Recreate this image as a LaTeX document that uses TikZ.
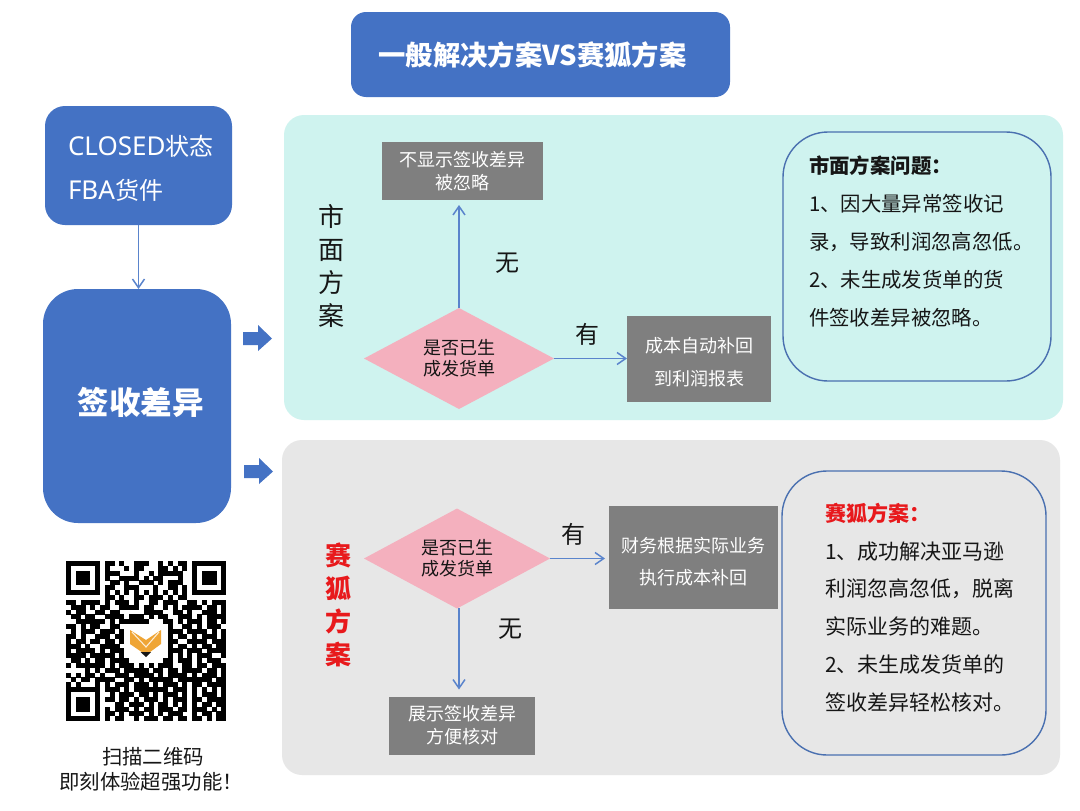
\documentclass[tikz,border=0pt]{standalone}
\usepackage{fontspec}
\usetikzlibrary{arrows.meta,shapes.geometric}
\setmainfont{Noto Sans CJK SC}
\newfontfamily\latinf{Noto Sans}
\newdimen\pxd \pxd=0.75pt
\newcommand\fz[2]{\fontsize{\the\dimexpr#1\pxd\relax}{\the\dimexpr#2\pxd\relax}\selectfont}
\definecolor{bluefill}{HTML}{4472C4}
\definecolor{linkblue}{HTML}{5A84CC}
\definecolor{greybox}{HTML}{7F7F7F}
\definecolor{pinkd}{HTML}{F4B0BE}
\definecolor{teal1}{HTML}{CFF3EF}
\definecolor{grey1}{HTML}{E7E7E7}
\definecolor{redt}{HTML}{E8191C}
\definecolor{ink}{HTML}{161616}
\definecolor{framel}{HTML}{4A70B0}
\definecolor{foxo}{HTML}{EFA535}
\tikzset{
  every node/.style={inner sep=0pt,outer sep=0pt},
  bluebox/.style={fill=bluefill,text=white,align=left},
  panel/.style={rounded corners=20*\pxd},
  greyb/.style={fill=greybox,text=white,align=center,font=\fz{18}{23}},
  greyt/.style={text=white,align=center},
  decide/.style={diamond,fill=pinkd,text=ink,align=center,font=\fz{18}{21},aspect=1.9,minimum width=190*\pxd,minimum height=100*\pxd},
  frameb/.style={draw=framel,line width=1.4*\pxd,rounded corners=45*\pxd},
  conn/.style={draw=linkblue,line width=1.5*\pxd,-{Straight Barb[length=6.5pt,width=9pt]}},
  ylab/.style={text=ink,font=\fz{24}{24}},
  vert/.style={align=center,font=\fz{26}{32.8}},
  para/.style={text=ink,align=left,anchor=north west},
}
\newcount\qx \newcount\qy
\def\qrparse#1{\ifx#1\relax\else\if#1x\fill (\the\qx,\the\qy) rectangle ++(1.03,1.03);\fi\advance\qx by 1 \expandafter\qrparse\fi}
\def\qrow#1{\qx=0 \qrparse#1\relax\advance\qy by 1 }
\begin{document}
\begin{tikzpicture}[x=0.75pt,y=-0.75pt]
\useasboundingbox (0,0) rectangle (1080,810);
\fill[white] (0,0) rectangle (1080,810);
% title
\node[fill=bluefill,rounded corners=15*\pxd,minimum width=379*\pxd,minimum height=85*\pxd] (title) at (540.5,54.5) {};
\node[text=white,font=\fz{27.3}{30}\bfseries] (titlet) at (532.5,54.5) {一般解决方案VS赛狐方案};
% left column
\node[bluebox,rounded corners=20*\pxd,minimum width=187*\pxd,minimum height=119*\pxd] (closed) at (138.5,165.5) {};
\node[text=white,anchor=west,align=left,font=\fz{24}{44}] (closedt) at (68,168.5) {{\latinf\fz{26}{44}CLOSED}状态\\{\latinf\fz{26}{44}FBA}货件};
\node[bluebox,rounded corners=35*\pxd,minimum width=188*\pxd,minimum height=234*\pxd] (diff) at (137,406) {};
\node[text=white,font=\fz{31.5}{34}\bfseries] (difft) at (140.5,402.5) {签收差异};
\draw[conn] (closed.south) -- (closed.south |- diff.north);
\fill[bluefill] (243,332)--(258,332)--(258,325)--(272,338.5)--(258,351)--(258,345)--(243,345)--cycle;
\fill[bluefill] (244,465)--(259,465)--(259,458)--(273,471.5)--(259,484)--(259,478)--(244,478)--cycle;
% panels
\node[fill=teal1,panel,minimum width=779*\pxd,minimum height=305*\pxd] (p1) at (673.5,267.5) {};
\node[fill=grey1,panel,minimum width=778*\pxd,minimum height=335*\pxd] (p2) at (671,607.5) {};
% market flow
\node[vert,text=ink] (mkt) at (331,266) {市\\面\\方\\案};
\node[greyb,minimum width=161*\pxd,minimum height=58*\pxd] (b1) at (462.5,171) {不显示签收差异\\被忽略};
\node[decide,minimum height=101*\pxd] (d1) at (459,358.5) {是否已生\\成发货单};
\node[greyb,minimum width=144*\pxd,minimum height=86*\pxd] (b2) at (699,359) {};
\node[greyt,font=\fz{18}{33}] (b2t) at (699,362.5) {成本自动补回\\到利润报表};
\draw[conn,shorten >=5*\pxd] (d1.north) -- (d1.north |- b1.south);
\draw[conn] (d1.east) -- (d1.east -| b2.west);
\node[ylab] (no1) at (507,263) {无};
\node[ylab] (yes1) at (587,334) {有};
\node[frameb,minimum width=268*\pxd,minimum height=249*\pxd] (f1) at (917,256.5) {};
\node[para,font=\fz{20.4}{38}] (f1t) at (809,156) {\textbf{市面方案问题：}\\1、因大量异常签收记\\录，导致利润忽高忽低。\\2、未生成发货单的货\\件签收差异被忽略。};
% saihu flow
\node[vert,text=redt,font=\fz{26}{32.8}\bfseries] (sai) at (338,605) {赛\\狐\\方\\案};
\node[decide,aspect=1.86,minimum width=186*\pxd] (d2) at (457,558.5) {是否已生\\成发货单};
\node[greyb,minimum width=169*\pxd,minimum height=103*\pxd] (b3) at (693.5,557.5) {};
\node[greyt,font=\fz{18}{32}] (b3t) at (693.5,561.5) {财务根据实际业务\\执行成本补回};
\node[greyb,minimum width=146*\pxd,minimum height=58*\pxd] (b4) at (462,725.5) {展示签收差异\\方便核对};
\draw[conn,shorten >=4*\pxd] (d2.east) -- (d2.east -| b3.west);
\coordinate (d2s) at (459,608);
\draw[conn,shorten >=7*\pxd] (d2s) -- (d2s |- b4.north);
\node[ylab] (yes2) at (573,534) {有};
\node[ylab] (no2) at (510,629) {无};
\node[frameb,minimum width=264*\pxd,minimum height=284*\pxd] (f2) at (914,613) {};
\node[para,font=\fz{21}{37.8}] (f2t) at (825,503) {\textcolor{redt}{\textbf{赛狐方案：}}\\1、成功解决亚马逊\\利润忽高忽低，脱离\\实际业务的难题。\\2、未生成发货单的\\签收差异轻松核对。};
% QR
\begin{scope}[shift={(66,561)},x=3.64pt,y=-3.64pt,black]
\qy=0
\qrow{xxxxxxx.xx.x..xxx..x.x.xx.xxxxxxx}
\qrow{x.....x.x...x.xx...xx.x.x.x.....x}
\qrow{x.xxx.x.xxx...x..x.xxxxx..x.xxx.x}
\qrow{x.xxx.x.x..xxxx.x.xx...x..x.xxx.x}
\qrow{x.xxx.x..xx.x..xxx.x.xxx..x.xxx.x}
\qrow{x.....x.xx..xxx...x..xx.x.x.....x}
\qrow{xxxxxxx.x.x.x.x.x.x.x.x.x.xxxxxxx}
\qrow{........xx.x..xx.xxx.x.xx........}
\qrow{xx.xxxx.x.xxx.x..xx.xxx..xx.x.xxx}
\qrow{.xxx.x.xx..xxxx.xx..x.x.xxxx.xx.x}
\qrow{x.xx..xx.xx.....xxxx..xx.x..xxx.x}
\qrow{.xx.xx..xxxx.xxx.x.xx..xxx.x.xxxx}
\qrow{..xxxxxx.x.xxxxxx...xx.x.xxx.xx.x}
\qrow{xx.x.xx..xx..........x..xx.x.xxx.}
\qrow{.x.xxx.xxx.x.........xxx.xxxx.x.x}
\qrow{xx.x..xxx.xx.........x.xx.x.xxx.x}
\qrow{x.xx.xx.xx.x.........xx..xxxx.xxx}
\qrow{xxx.x..xxxx..........x.xx.x.xx.xx}
\qrow{x.xxxx.x.xxx.........xxx.xxx.xxxx}
\qrow{xxxx.xxxxx.x.........x.x.x.xxx..x}
\qrow{.xx.x.xx.xxxx.......xx.xxx.x.xxx.}
\qrow{x.xxxxxx.x.xxx.x.x.xxx..xx.xx.xxx}
\qrow{....x.x.xxx.xxxxx.xx.xx.xxxx.xx.x}
\qrow{x.x.xx.x..xxx.xxxx.x.xxxx.x.xxx.x}
\qrow{.x.xx.xxxx..xx.x.xxxxx.xxxxxxx.xx}
\qrow{x.x...x.x.xxx.xxx.x.xxx.x.xx.xxxx}
\qrow{xxxxxxx.xxx.x.xxxxxxx.xxx.x.x.x.x}
\qrow{x.....x..x.xxx.xx.x.xxx.x.x.xxx.x}
\qrow{x.xxx.x.xx.xx.x.xxx.x.xxx.xx.xxxx}
\qrow{x.xxx.x...xx.xxx.x.xx.x.x.x.xx.xx}
\qrow{x.xxx.x.x.xxx.x.xx.xxx.xx.xxx.x.x}
\qrow{x.....x.xx.x.xxx.x.x.xxx..x.xx.xx}
\qrow{xxxxxxx.x.xx..x.xxx.xx.xx.xx.x.xx}
\end{scope}
% fox logo
\fill[foxo] (130,630)--(146,640)--(161,630)--(161,644)--(146,655)--(130,644)--cycle;
\fill[ink] (140.5,652)--(151,652)--(146,657)--cycle;
\draw[white!80!foxo,line width=0.8] (132,632)--(146,647)--(159,632);
% caption
\node[text=ink,align=center,font=\fz{20.4}{25}] (cap) at (151,769.5) {\hspace*{4\pxd}扫描二维码\\即刻体验超强功能！};
\end{tikzpicture}
\end{document}
